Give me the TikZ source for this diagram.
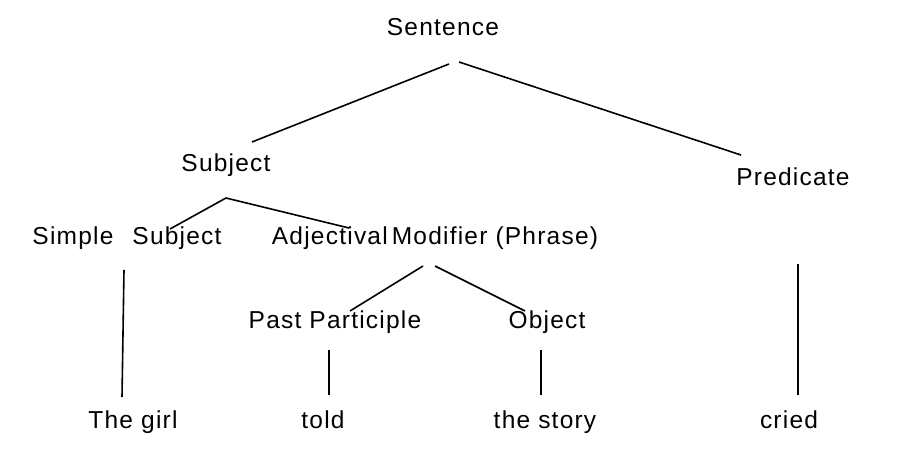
\documentclass[tikz,border=0pt]{standalone}
\usepackage{fontspec}
\setmainfont{Liberation Sans}[LetterSpace=5]
\tikzset{
	word/.style={inner sep=0pt, text height=17pt, text depth=5pt, font=\fontsize{24.5}{28}\selectfont},
	branch/.style={line width=1.6pt}
}
\begin{document}
\begin{tikzpicture}[x=1pt,y=-1pt]
		\useasboundingbox (0,0) rectangle (911,471);

		% Words of the tree
		\node[word] (sentence) at (443,29) {Sentence};
		\node[word] (subject) at (226,165) {Subject};
		\node[word] (predicate) at (793,179) {Predicate};
		\node[word] (simple) at (127,238) {Simple\hspace{19pt}Subject};
		\node[word] (adjmod) at (435,238) {Adjectival\hspace{4pt}Modifier (Phrase)};
		\node[word] (pastpart) at (335,322) {Past Participle};
		\node[word] (object) at (547,322) {Object};
		\node[word] (girl) at (133,422) {The girl};
		\node[word] (told) at (323,422) {told};
		\node[word] (story) at (545,422) {the story};
		\node[word] (cried) at (789,422) {cried};

		% Ends of the branches
		\coordinate (s1) at (449,64);
		\coordinate (s2) at (459,62);
		\coordinate (subjL) at (252,142);
		\coordinate (predR) at (741,155);
		\coordinate (subj0) at (226,198);
		\coordinate (simp) at (170,229);
		\coordinate (adjL) at (349,228);
		\coordinate (am1) at (423,266);
		\coordinate (am2) at (435,266);
		\coordinate (ppU) at (350,311);
		\coordinate (obU) at (525,311);
		\coordinate (simpD) at (124,270);
		\coordinate (girlU) at (122,397);
		\coordinate (ppD) at (329,350);
		\coordinate (toldU) at (329,395);
		\coordinate (obD) at (541,350);
		\coordinate (storyU) at (541,395);
		\coordinate (predD) at (798,264);
		\coordinate (criedU) at (798,395);

		% Branches
		\draw[branch] (s1) -- (subjL);
		\draw[branch] (s2) -- (predR);
		\draw[branch] (simp) -- (subj0) -- (adjL);
		\draw[branch] (ppU) -- (am1);
		\draw[branch] (am2) -- (obU);
		\draw[branch] (simpD) -- (girlU);
		\draw[branch] (ppD) -- (toldU);
		\draw[branch] (obD) -- (storyU);
		\draw[branch] (predD) -- (criedU);
	\end{tikzpicture}
\end{document}
